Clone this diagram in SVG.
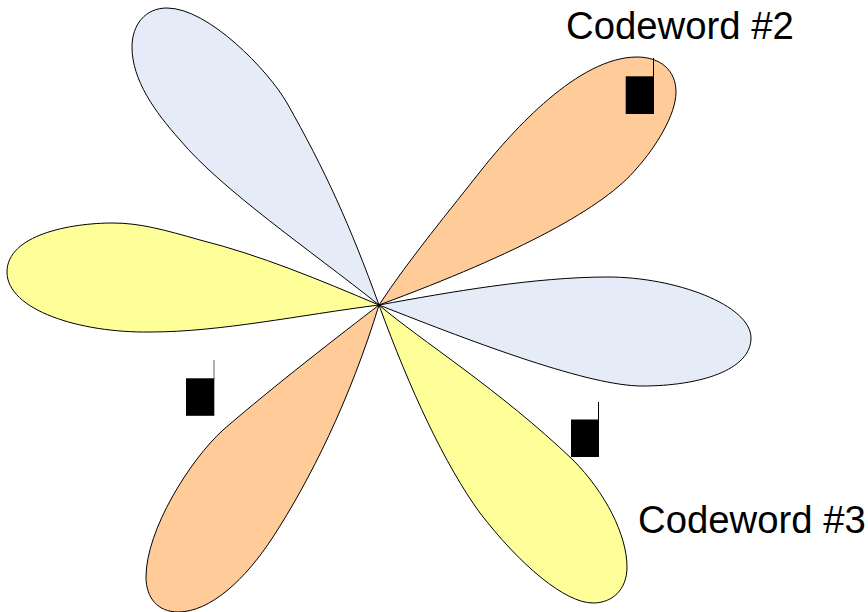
<svg xmlns="http://www.w3.org/2000/svg" width="868" height="612" viewBox="0 0 868 612">
<style>
.l{stroke:#000;stroke-width:1;stroke-linejoin:round}
.a{fill:#e6ecf7}.b{fill:#ffcc99}.c{fill:#ffff99}
.t{font-family:"Liberation Sans",Arial,sans-serif;font-size:38.300px;fill:#000}
.m{fill:#000}.w{stroke:#000;stroke-width:1;fill:none}
</style>
<rect width="868" height="612" fill="#fff"/>
<g id="lobe-1"><path class="l a" d="M379 305C350 225 325 170 287 103C268 70 208 8 167 8C145 8 132 25 132 47C132 80 155 112 180 140C222 190 310 250 379 305Z"/></g>
<g id="lobe-2"><path class="l b" d="M379 305C410 258 450 210 483 168C512 132 578 57 637 57C660 57 676 70 676 92C676 115 655 148 637 168C605 207 520 253 379 305Z"/></g>
<g id="lobe-3"><path class="l a" d="M379 305C450 292 535 277 608 277C675 277 751 305 751 338C751 370 700 386 642 386C590 386 480 345 379 305Z"/></g>
<g id="lobe-4"><path class="l c" d="M379 305C420 340 500 390 573 460C605 492 627 535 627 567C627 590 612 603 593 603C565 603 520 565 480 513C445 465 410 390 379 305Z"/></g>
<g id="lobe-5"><path class="l b" d="M379 305C340 335 275 385 223 430C190 460 146 530 146 577C146 598 158 612 178 612C210 612 245 580 273 537C310 480 350 400 379 305Z"/></g>
<g id="lobe-6"><path class="l c" d="M379 305C320 280 260 255 200 240C165 230 140 223 113 223C70 223 7 235 7 272C7 310 80 333 150 332C220 332 300 315 379 305Z"/></g>
<g id="marker-2"><rect class="m" x="625.700" y="76.300" width="28.300" height="37.700"/><path class="w" d="M653.500 58V77"/></g>
<g id="marker-3"><rect class="m" x="571" y="419.500" width="28" height="37.500"/><path class="w" d="M598.500 402V420"/></g>
<g id="marker-1"><rect class="m" x="186" y="378.300" width="28.300" height="37.500"/><path class="w" d="M214 360V379" stroke-opacity="0.6"/></g>
<g id="label-2"><text class="t" x="566" y="39">Codeword #2</text></g>
<g id="label-3"><text class="t" x="638" y="533">Codeword #3</text></g>
</svg>
